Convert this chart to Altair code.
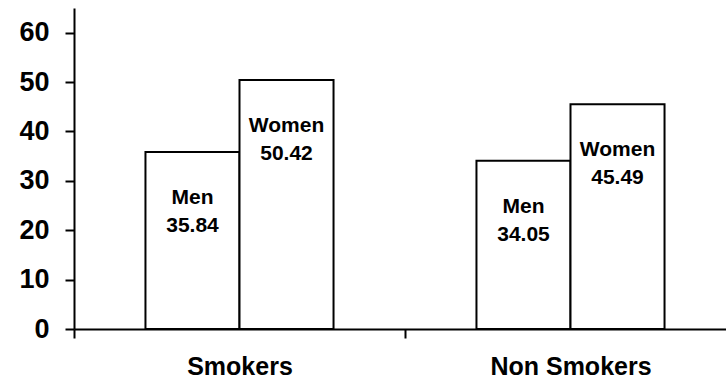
import altair as alt
import pandas as pd

group_order = ["Smokers", "Non Smokers"]
sex_order = ["Men", "Women"]
groups = ["Smokers", "Smokers", "Non Smokers", "Non Smokers"]
sexes = ["Men", "Women", "Men", "Women"]
values = [35.84, 50.42, 34.05, 45.49]
y_ticks = [0, 10, 20, 30, 40, 50, 60]

df = pd.DataFrame({"group": groups, "sex": sexes, "value": values})

FONT = "Liberation Sans"

x = alt.X(
    "group:N", sort=group_order, title=None,
    scale=alt.Scale(range=[0, 662], paddingInner=0, paddingOuter=0),
    axis=alt.Axis(labelAngle=0, labelFont=FONT, labelFontSize=25, labelFontWeight="bold",
                  labelColor="black", labelPadding=16, tickBand="extent", tickSize=9,
                  tickWidth=2, tickColor="black", domainColor="black", domainWidth=2,
                  grid=False),
)
xo = alt.XOffset("sex:N", sort=sex_order,
                 scale=alt.Scale(paddingInner=0, paddingOuter=0.76))
y = alt.Y(
    "value:Q", title=None,
    scale=alt.Scale(domain=[0, 65], nice=False, zero=True),
    axis=alt.Axis(values=y_ticks, labelFont=FONT, labelFontSize=27, labelFontWeight="bold",
                  labelColor="black", labelPadding=16, tickSize=9, tickWidth=2,
                  tickColor="black", domainColor="black", domainWidth=2, grid=False),
)

base = alt.Chart(df).encode(x=x, xOffset=xo, y=y)

bars = base.mark_bar(fill="white", stroke="black", strokeWidth=2)
t1 = base.mark_text(font=FONT, fontSize=21, fontWeight="bold", baseline="middle",
                    dy=46, color="black").encode(text="sex:N")
t2 = base.mark_text(font=FONT, fontSize=21, fontWeight="bold", baseline="middle",
                    dy=74, color="black").encode(text=alt.Text("value:Q", format=".2f"))

chart = alt.layer(bars, t1, t2).properties(
    width=652, height=321,
    autosize=alt.AutoSizeParams(type="none"),
    padding={"left": 74, "top": 8, "right": 0, "bottom": 52},
    background="white",
).configure_view(stroke=None)

chart.save("out.html", embed_options={"renderer": "svg", "actions": False})
